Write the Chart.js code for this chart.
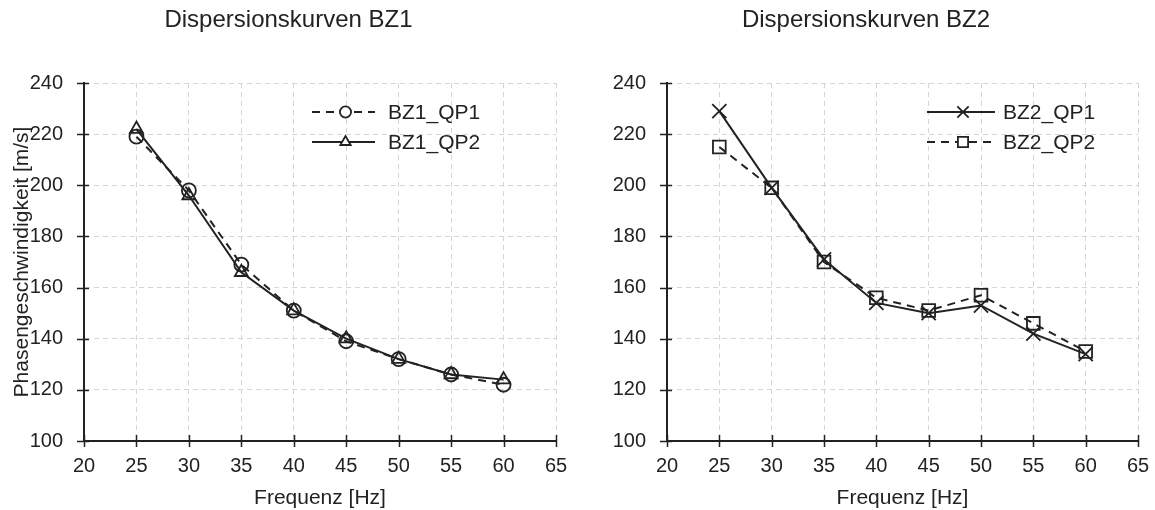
<!DOCTYPE html>
<html>
<head>
<meta charset="utf-8">
<script src="https://cdn.jsdelivr.net/npm/chart.js@4"></script>
<style>
  body { margin: 0; background: #fff; }
  .wrap { position: absolute; top: 0; height: 510px; }
  #left { left: 0; width: 577px; }
  #right { left: 577px; width: 578px; }
</style>
</head>
<body>
<div class="wrap" id="left"><canvas id="chart-bz1"></canvas></div>
<div class="wrap" id="right"><canvas id="chart-bz2"></canvas></div>
<script>
// frequencies (Hz)
const freqs = [25, 30, 35, 40, 45, 50, 55, 60];

// phase velocities (m/s)
const bz1Qp1 = [219, 198, 169, 151, 139, 132, 126, 122];
const bz1Qp2 = [222, 196, 166, 151, 140, 132, 126, 124];
const bz2Qp1 = [229, 199, 171, 154, 150, 153, 142, 134];
const bz2Qp2 = [215, 199, 170, 156, 151, 157, 146, 135];

const xTicks = [20, 25, 30, 35, 40, 45, 50, 55, 60, 65];
const yTicks = [100, 120, 140, 160, 180, 200, 220, 240];

const FONT = '"Liberation Sans", Arial, sans-serif';
const INK = '#222';

const toPoints = (vals) => vals.map((v, i) => ({ x: freqs[i], y: v }));

// draws title, axis titles, crossing tick marks and the legend
const decorPlugin = {
    id: 'decor',
    afterDraw(chart, args, opts) {
        const ctx = chart.ctx;
        const area = chart.chartArea;
        const xs = chart.scales.x;
        const ys = chart.scales.y;
        ctx.save();

        // tick marks crossing the axes
        ctx.strokeStyle = INK;
        ctx.lineWidth = 1.5;
        ctx.beginPath();
        xTicks.forEach(t => {
            const px = Math.round(xs.getPixelForValue(t)) + 0.5;
            ctx.moveTo(px, area.bottom - 6);
            ctx.lineTo(px, area.bottom + 6);
        });
        yTicks.forEach(t => {
            const py = Math.round(ys.getPixelForValue(t)) + 0.5;
            ctx.moveTo(area.left - 7, py);
            ctx.lineTo(area.left + 5, py);
        });
        ctx.stroke();

        // titles
        ctx.fillStyle = INK;
        ctx.textAlign = 'center';
        ctx.textBaseline = 'middle';
        ctx.font = '24px ' + FONT;
        ctx.fillText(opts.title, chart.width / 2, 20);
        ctx.font = '21px ' + FONT;
        ctx.fillText('Frequenz [Hz]', (area.left + area.right) / 2, 498);
        if (opts.yTitle) {
            ctx.save();
            ctx.translate(22, (area.top + area.bottom) / 2);
            ctx.rotate(-Math.PI / 2);
            ctx.fillText(opts.yTitle, 0, 0);
            ctx.restore();
        }

        // legend
        chart.data.datasets.forEach((ds, i) => {
            const y = opts.legendY[i];
            const [x0, x1, tx] = opts.legendX;
            ctx.strokeStyle = INK;
            ctx.lineWidth = 2;
            ctx.setLineDash(ds.borderDash || []);
            ctx.beginPath();
            ctx.moveTo(x0, y);
            ctx.lineTo(x1, y);
            ctx.stroke();
            ctx.setLineDash([]);
            ctx.lineWidth = 1.8;
            ctx.fillStyle = '#fff';
            Chart.helpers.drawPoint(ctx, {
                pointStyle: ds.pointStyle,
                radius: ds.pointRadius * 0.8,
                borderWidth: 1.8
            }, (x0 + x1) / 2 + 2, y);
            ctx.fillStyle = INK;
            ctx.textAlign = 'left';
            ctx.font = '21px ' + FONT;
            ctx.fillText(ds.label, tx, y + 1);
        });
        ctx.restore();
    }
};

const makeDataset = (label, vals, style, radius, dashed) => ({
    label: label,
    data: toPoints(vals),
    borderColor: INK,
    backgroundColor: 'rgba(0,0,0,0)',
    borderWidth: 2,
    borderDash: dashed ? [8, 6] : [],
    pointStyle: style,
    pointRadius: radius,
    pointHoverRadius: radius,
    pointBorderColor: INK,
    pointBackgroundColor: 'rgba(0,0,0,0)',
    pointBorderWidth: 1.8,
    tension: 0
});

const makeOptions = (axisLeft, padRight, decor) => ({
    responsive: true,
    maintainAspectRatio: false,
    animation: false,
    layout: { padding: { left: 0, right: padRight, top: 83, bottom: 0 } },
    plugins: {
        legend: { display: false },
        tooltip: { enabled: false },
        decor: decor
    },
    scales: {
        x: {
            type: 'linear',
            min: 20,
            max: 65,
            afterFit: (scale) => {
                scale.height = 69;
                scale.paddingLeft = 0;
                scale.paddingRight = 0;
            },
            afterBuildTicks: (scale) => { scale.ticks = xTicks.map(v => ({ value: v })); },
            ticks: { color: INK, font: { family: FONT, size: 20 }, padding: 13, maxRotation: 0 },
            grid: { color: '#d6d6d6', lineWidth: 1, drawTicks: false },
            border: { display: true, color: INK, width: 2, dash: [5, 4] }
        },
        y: {
            min: 100,
            max: 240,
            afterFit: (scale) => {
                scale.width = axisLeft;
                scale.paddingTop = 0;
                scale.paddingBottom = 0;
            },
            afterBuildTicks: (scale) => { scale.ticks = yTicks.map(v => ({ value: v })); },
            ticks: { color: INK, font: { family: FONT, size: 20 }, padding: 21 },
            grid: { color: '#d6d6d6', lineWidth: 1, drawTicks: false },
            border: { display: true, color: INK, width: 2, dash: [5, 4] }
        }
    }
});

new Chart(document.getElementById('chart-bz1'), {
    type: 'line',
    data: {
        datasets: [
            makeDataset('BZ1_QP1', bz1Qp1, 'circle', 7, true),
            makeDataset('BZ1_QP2', bz1Qp2, 'triangle', 7.5, false)
        ]
    },
    options: makeOptions(84, 21, {
        title: 'Dispersionskurven BZ1',
        yTitle: 'Phasengeschwindigkeit [m/s]',
        legendX: [312, 375, 388], legendY: [112, 142]
    }),
    plugins: [decorPlugin]
});

new Chart(document.getElementById('chart-bz2'), {
    type: 'line',
    data: {
        datasets: [
            makeDataset('BZ2_QP1', bz2Qp1, 'crossRot', 10, false),
            makeDataset('BZ2_QP2', bz2Qp2, 'rect', 9, true)
        ]
    },
    options: makeOptions(90, 17, {
        title: 'Dispersionskurven BZ2',
        yTitle: null,
        legendX: [350, 418, 426], legendY: [112, 142]
    }),
    plugins: [decorPlugin]
});
</script>
</body>
</html>
